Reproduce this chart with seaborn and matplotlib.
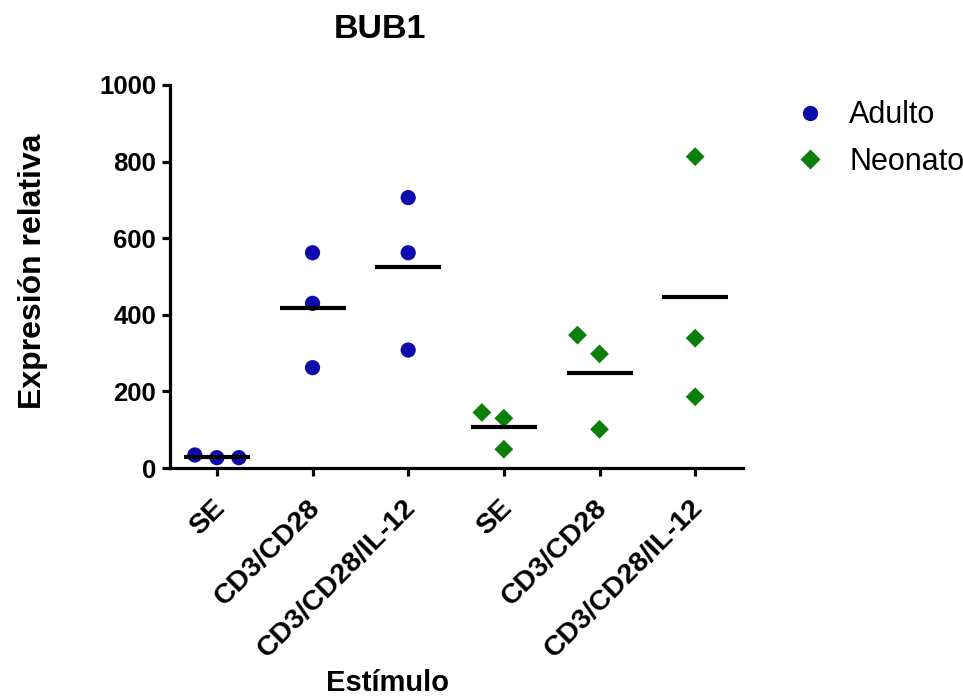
import numpy as np
import pandas as pd
import matplotlib
matplotlib.use("Agg")
import matplotlib.pyplot as plt
from matplotlib.lines import Line2D
from matplotlib.transforms import ScaledTranslation
import seaborn as sns

# Stimulus categories and groups
estimulos = ["SE", "CD3/CD28", "CD3/CD28/IL-12"]
grupos = ["Adulto", "Neonato"]

# Relative expression values (three replicates per condition)
adulto_se = [27, 34, 27]
adulto_cd3cd28 = [562, 430, 262]
adulto_cd3cd28_il12 = [706, 562, 308]
neonato_se = [130, 145, 49]
neonato_cd3cd28 = [298, 347, 101]
neonato_cd3cd28_il12 = [813, 339, 186]

y_ticks = [0, 200, 400, 600, 800, 1000]

colores = {"Adulto": "#0c0cae", "Neonato": "#0a800a"}
marcadores = {"Adulto": "o", "Neonato": "D"}
tamanos = {"Adulto": 120, "Neonato": 92}


def spread_offsets(values, min_gap=60, step=0.23):
    """Side-by-side placement for replicates that would overlap in a column."""
    placed, offsets = [], []
    for v in values:
        for k in [0, -1, 1, -2, 2]:
            if all(not (pk == k and abs(v - pv) < min_gap) for pv, pk in placed):
                break
        placed.append((v, k))
        offsets.append(k * step)
    return offsets


series = {
    ("Adulto", "SE"): adulto_se,
    ("Adulto", "CD3/CD28"): adulto_cd3cd28,
    ("Adulto", "CD3/CD28/IL-12"): adulto_cd3cd28_il12,
    ("Neonato", "SE"): neonato_se,
    ("Neonato", "CD3/CD28"): neonato_cd3cd28,
    ("Neonato", "CD3/CD28/IL-12"): neonato_cd3cd28_il12,
}

rows = []
for col, (grupo, estimulo) in enumerate(series):
    vals = series[(grupo, estimulo)]
    for v, off in zip(vals, spread_offsets(vals)):
        rows.append({"grupo": grupo, "estimulo": estimulo, "columna": col,
                     "x": col + off, "valor": v})
df = pd.DataFrame(rows)

sns.set_style("ticks")
plt.rcParams["font.family"] = ["Liberation Sans", "DejaVu Sans"]
plt.rcParams["text.color"] = "black"
plt.rcParams["xtick.color"] = "black"
plt.rcParams["ytick.color"] = "black"
plt.rcParams["axes.labelcolor"] = "black"

fig = plt.figure(figsize=(9.63, 7.0), dpi=100)
ax = fig.add_axes([170 / 963, 1 - 468 / 700, (743 - 170) / 963, (468 - 85) / 700])

sns.scatterplot(data=df, x="x", y="valor", hue="grupo", style="grupo",
                size="grupo", sizes=tamanos, markers=marcadores,
                palette=colores, linewidth=0, legend=False, ax=ax,
                zorder=3, clip_on=False)

# Mean line per column
medias = df.groupby("columna")["valor"].mean()
ax.hlines(medias.values, medias.index - 0.345, medias.index + 0.345,
          color="black", linewidth=3, zorder=4)

ax.set_xlim(-0.49, 5.50)
ax.set_ylim(0, 1000)
ax.set_xlabel("")
ax.set_ylabel("")
for side in ["top", "right"]:
    ax.spines[side].set_visible(False)
for side in ["left", "bottom"]:
    ax.spines[side].set_linewidth(2.3)
    ax.spines[side].set_color("black")
ax.tick_params(axis="both", width=2.3, length=6, color="black", pad=4)

ax.set_yticks(y_ticks)
ax.set_yticklabels([str(t) for t in y_ticks], fontsize=18.5,
                   fontweight="bold", color="black")
ax.set_xticks(range(6))
ax.set_xticklabels(estimulos * 2, rotation=45, ha="right", va="center",
                   rotation_mode="anchor", fontsize=20.5, fontweight="bold",
                   color="black")
# Shift the slanted labels down and to the right of their ticks
offset = ScaledTranslation(4 / 100, -22 / 100, fig.dpi_scale_trans)
for lbl in ax.get_xticklabels():
    lbl.set_transform(lbl.get_transform() + offset)

fig.text(380 / 963, 1 - 30 / 700, "BUB1", ha="center", va="center",
         fontsize=24.5, fontweight="bold", color="black")
fig.text(33 / 963, 1 - 271 / 700, "Expresión relativa", rotation=90,
         ha="center", va="center", fontsize=23, fontweight="bold",
         color="black")
fig.text(387 / 963, 1 - 683 / 700, "Estímulo", ha="center", va="center",
         fontsize=21, fontweight="bold", color="black")

handles = [Line2D([0], [0], marker=marcadores[g], color="none",
                  markerfacecolor=colores[g], markeredgecolor="none",
                  markersize=11 if g == "Adulto" else 10, label=g)
           for g in grupos]
fig.legend(handles=handles, loc="upper left",
           bbox_to_anchor=(782 / 963, 1 - 88 / 700), frameon=False,
           fontsize=22, handlelength=1.0, handletextpad=0.8,
           labelspacing=0.55, borderaxespad=0, labelcolor="black")

fig.savefig("out.png", dpi=100)
